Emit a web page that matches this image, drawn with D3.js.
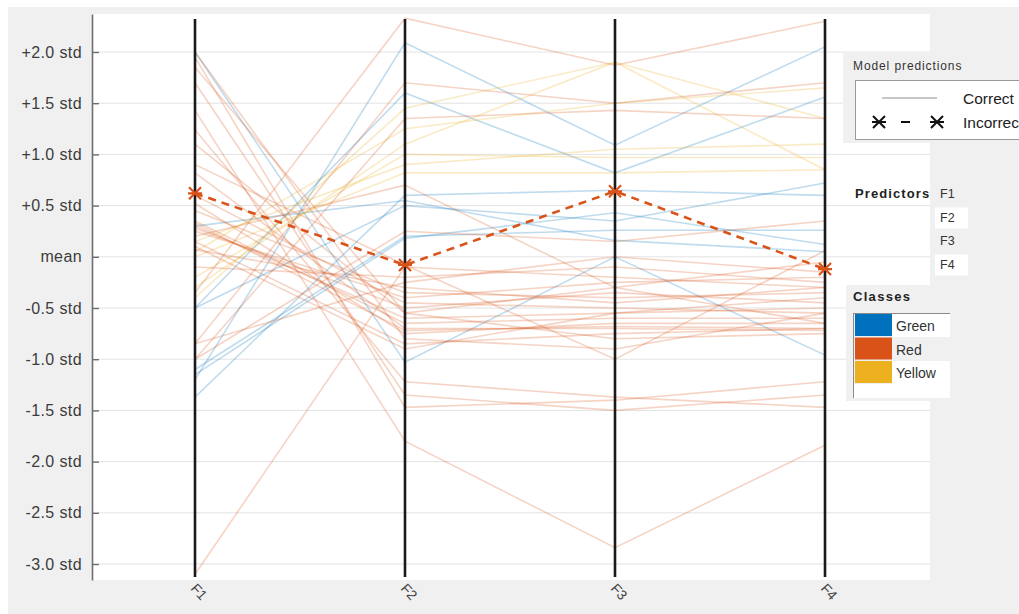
<!DOCTYPE html>
<html>
<head>
<meta charset="utf-8">
<script src="https://cdn.jsdelivr.net/npm/d3@7"></script>
<style>
  body { margin: 0; background: #ffffff; }
  svg { display: block; font-family: "Liberation Sans", Arial, Helvetica, sans-serif; }
</style>
</head>
<body>
<svg id="chart" width="1019" height="614"></svg>
<script>
// Predictors shown as parallel axes (standardized values)
const features = ["F1", "F2", "F3", "F4"];
const yTicks = [2, 1.5, 1, 0.5, 0, -0.5, -1, -1.5, -2, -2.5, -3];

const classNames = ["Green", "Red", "Yellow"];
const classColors = ["#0072BD", "#D95319", "#EDB120"];

// Correctly predicted observations, one array per class: [F1, F2, F3, F4]
const greenRows = [
  [2.0, -1.03, 0.0, -0.96],
  [-1.2, 2.09, 1.09, 2.05],
  [-0.5, 1.6, 0.82, 1.56],
  [-1.37, 0.6, 0.65, 0.6],
  [-1.1, 0.2, 0.26, 0.26],
  [-1.15, 0.18, 0.43, 0.12],
  [0.3, 0.55, 0.16, 0.05],
  [-0.5, 0.5, 0.35, 0.72]
];
const redRows = [
  [-3.1, -0.1, -0.2, -0.3],
  [1.95, -1.47, -1.4, -1.22],
  [1.7, -1.35, -1.5, -1.35],
  [1.43, -1.8, -2.84, -1.84],
  [1.24, -1.22, -1.37, -1.47],
  [0.82, -0.7, -0.7, -0.72],
  [0.52, -0.75, -0.65, -0.65],
  [0.33, -0.72, -0.68, -0.7],
  [0.3, -0.6, -0.55, -0.5],
  [0.28, -0.5, -0.35, -0.45],
  [0.25, -0.4, -0.25, -0.2],
  [0.07, -0.3, -0.45, -0.3],
  [-0.1, -0.2, -0.1, -0.25],
  [-0.35, 2.33, 1.87, 2.3],
  [-0.85, 1.7, 1.5, 1.7],
  [-1.0, 1.35, 1.43, 1.35],
  [0.2, 0.7, -0.3, -0.05],
  [2.0, -0.8, -0.9, -0.55],
  [0.9, -0.08, -1.0, 0.06],
  [1.1, -0.55, -0.8, -0.75],
  [0.35, -0.65, -0.6, -0.6],
  [0.6, -0.45, -0.5, -0.55],
  [-0.85, -0.25, 0.0, -0.15],
  [0.15, -0.85, -0.75, -0.7],
  [-1.0, 0.25, 0.15, 0.35],
  [0.45, -0.35, -0.4, -0.35],
  [0.1, -0.9, -0.55, -0.4],
  [1.85, -0.55, -0.3, -0.65]
];
const yellowRows = [
  [-0.3, 1.1, 1.9, 0.85],
  [-0.2, 1.0, 0.97, 0.97],
  [0.0, 0.82, 0.82, 0.85],
  [-0.4, 1.45, 1.9, 1.35],
  [0.15, 0.9, 1.05, 1.1],
  [0.05, 1.25, 1.5, 1.65]
];

// Misclassified observation (true class: Red)
const incorrectRow = [0.62, -0.08, 0.64, -0.12];

const svg = d3.select("#chart");

// Figure background and plotting area
svg.append("rect").attr("x", 8).attr("y", 7).attr("width", 1011).attr("height", 607).attr("fill", "#f0f0f0");
const plot = { left: 92, right: 930, top: 14, bottom: 580 };
svg.append("rect")
  .attr("x", plot.left).attr("y", plot.top)
  .attr("width", plot.right - plot.left).attr("height", plot.bottom - plot.top)
  .attr("fill", "#ffffff");

const x = d3.scalePoint().domain(features).range([195, 825]);
const y = d3.scaleLinear().domain([-3.156, 2.371]).range([plot.bottom, plot.top]);

// Horizontal grid
svg.append("g").selectAll("line").data(yTicks).join("line")
  .attr("x1", plot.left).attr("x2", plot.right)
  .attr("y1", d => y(d)).attr("y2", d => y(d))
  .attr("stroke", "#e3e3e3").attr("stroke-width", 1);

// Y axis with inward ticks
const fmt = v => v === 0 ? "mean" : (v > 0 ? "+" : "-") + Math.abs(v).toFixed(1) + " std";
const yAxis = svg.append("g")
  .attr("transform", `translate(${plot.left},0)`)
  .call(d3.axisLeft(y).tickValues(yTicks).tickFormat(fmt).tickSizeInner(-7).tickSizeOuter(0).tickPadding(10));
yAxis.select(".domain").attr("stroke", "#6e6e6e").attr("stroke-width", 1.6);
yAxis.selectAll(".tick line").attr("stroke", "#6e6e6e").attr("stroke-width", 1.4);
yAxis.selectAll(".tick text").attr("fill", "#3c3c3c").style("font-size", "16px")
  .style("letter-spacing", "0.4px")
  .style("font-family", '"Liberation Sans", Arial, sans-serif');

// Observation polylines
const line = d3.line().x((d, i) => x(features[i])).y(d => y(d));
const groups = [
  { rows: greenRows, color: classColors[0] },
  { rows: yellowRows, color: classColors[2] },
  { rows: redRows, color: classColors[1] }
];
groups.forEach(g => {
  svg.append("g").selectAll("path").data(g.rows).join("path")
    .attr("d", line)
    .attr("fill", "none")
    .attr("stroke", g.color)
    .attr("stroke-opacity", 0.25)
    .attr("stroke-width", 1.6);
});

// Parallel axes
svg.append("g").selectAll("line").data(features).join("line")
  .attr("x1", d => x(d)).attr("x2", d => x(d))
  .attr("y1", 19).attr("y2", 577)
  .attr("stroke", "#1a1a1a").attr("stroke-width", 2.6);

// Misclassified observation
svg.append("path")
  .attr("d", line(incorrectRow))
  .attr("fill", "none")
  .attr("stroke", classColors[1])
  .attr("stroke-width", 2.6)
  .attr("stroke-dasharray", "8,6");
const star = "M-6,-6L6,6M-6,6L6,-6M-7,0L7,0";
svg.append("g").selectAll("path").data(incorrectRow).join("path")
  .attr("transform", (d, i) => `translate(${x(features[i])},${y(d)})`)
  .attr("d", star)
  .attr("stroke", classColors[1]).attr("stroke-width", 2.2).attr("fill", "none");

// Axis category labels
svg.append("g").selectAll("text").data(features).join("text")
  .attr("transform", d => `translate(${x(d) - 5},${589}) rotate(48)`)
  .attr("fill", "#444").style("font-size", "14px")
  .text(d => d);

// Legend: model predictions
const lg = svg.append("g");
lg.append("rect").attr("x", 843).attr("y", 53).attr("width", 176).attr("height", 90).attr("fill", "#f0f0f0");
lg.append("text").attr("x", 853).attr("y", 70).attr("fill", "#333")
  .style("font-size", "12px").style("letter-spacing", "0.9px").text("Model predictions");
lg.append("rect").attr("x", 855.5).attr("y", 80.5).attr("width", 170).attr("height", 59)
  .attr("fill", "#ffffff").attr("stroke", "#9a9a9a").attr("stroke-width", 1);
lg.append("line").attr("x1", 882).attr("x2", 937).attr("y1", 98).attr("y2", 98)
  .attr("stroke", "#b5b5b5").attr("stroke-width", 1.5);
lg.append("text").attr("x", 963).attr("y", 103.5).attr("fill", "#222").style("font-size", "15.5px").text("Correct");
lg.append("line").attr("x1", 879).attr("x2", 937).attr("y1", 122).attr("y2", 122)
  .attr("stroke", "#111").attr("stroke-width", 2).attr("stroke-dasharray", "0,22,9,40");
[879, 937].forEach(cx => {
  lg.append("path").attr("transform", `translate(${cx},122)`).attr("d", star)
    .attr("stroke", "#111").attr("stroke-width", 2).attr("fill", "none");
});
lg.append("text").attr("x", 963).attr("y", 127.5).attr("fill", "#222").style("font-size", "15.5px").text("Incorrect");

// Legend: predictors
const pg = svg.append("g");
pg.append("text").attr("x", 855).attr("y", 198).attr("fill", "#222")
  .style("font-size", "13px").style("font-weight", "bold").style("letter-spacing", "1.1px").text("Predictors");
[1, 3].forEach(i => {
  pg.append("rect").attr("x", 935).attr("y", 184 + i * 23.5).attr("width", 33).attr("height", 21).attr("fill", "#ffffff");
});
pg.selectAll("text.f").data(features).join("text").attr("class", "f")
  .attr("x", 940).attr("y", (d, i) => 198 + i * 23.5)
  .attr("fill", "#333").style("font-size", "12.5px").text(d => d);

// Legend: classes
const cg = svg.append("g");
cg.append("rect").attr("x", 846).attr("y", 285).attr("width", 84).attr("height", 116).attr("fill", "#f0f0f0");
cg.append("text").attr("x", 853).attr("y", 301).attr("fill", "#222")
  .style("font-size", "13px").style("font-weight", "bold").style("letter-spacing", "1.3px").text("Classes");
cg.append("rect").attr("x", 892).attr("y", 314).attr("width", 58).attr("height", 23).attr("fill", "#ffffff");
cg.append("rect").attr("x", 892).attr("y", 361).attr("width", 58).attr("height", 23).attr("fill", "#ffffff");
cg.append("rect").attr("x", 853).attr("y", 384).attr("width", 97).attr("height", 14).attr("fill", "#ffffff");
cg.append("line").attr("x1", 853).attr("x2", 950).attr("y1", 313.5).attr("y2", 313.5).attr("stroke", "#8c8c8c");
cg.append("line").attr("x1", 853.5).attr("x2", 853.5).attr("y1", 313).attr("y2", 398).attr("stroke", "#8c8c8c");
cg.selectAll("rect.sw").data(classNames).join("rect").attr("class", "sw")
  .attr("x", 855).attr("y", (d, i) => 314 + i * 23.5)
  .attr("width", 37).attr("height", 22)
  .attr("fill", (d, i) => classColors[i]);
cg.selectAll("text.cn").data(classNames).join("text").attr("class", "cn")
  .attr("x", 896).attr("y", (d, i) => 331 + i * 23.5)
  .attr("fill", "#333").style("font-size", "14px").text(d => d);
</script>
</body>
</html>
